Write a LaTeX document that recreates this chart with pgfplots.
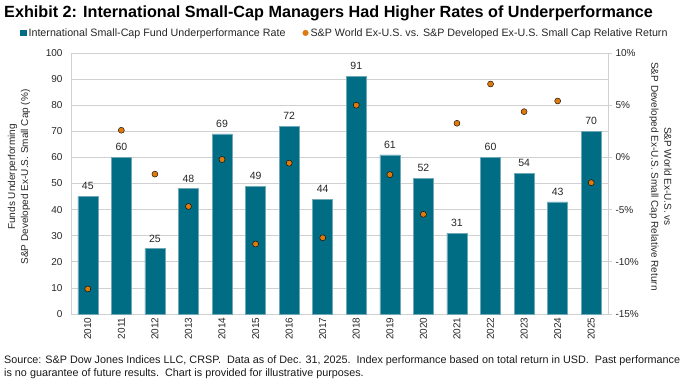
\documentclass[border=0pt]{standalone}
\usepackage{pgfplots}
\pgfplotsset{compat=1.18}
\usepackage{fontspec}
\setmainfont{Liberation Sans}
\definecolor{barc}{HTML}{006D85}
\definecolor{baredge}{HTML}{6FA9B8}
\definecolor{dotc}{HTML}{DD7A0E}
\definecolor{gridc}{HTML}{D0D0D0}
\begin{document}
\begin{tikzpicture}
\path[use as bounding box] (0pt,0pt) rectangle (687pt,388pt);
\node[anchor=west, font=\bfseries\fontsize{16.2}{19}\selectfont, inner sep=0pt] at (4pt,375pt) {Exhibit 2: International Small-Cap Managers Had Higher Rates of Underperformance};
\begin{axis}[at={(71pt,74pt)}, anchor=south west, scale only axis, width=537pt, height=261pt,
  xmin=-0.5, xmax=15.5, ymin=0, ymax=100,
  ytick={0,10,...,100},
  xtick={0,...,15},
  xticklabels={2010,2011,2012,2013,2014,2015,2016,2017,2018,2019,2020,2021,2022,2023,2024,2025},
  /pgf/number format/assume math mode=true,
  ticklabel style={font=\fontsize{10}{12}\selectfont, text=black!85},
  y tick label style={xshift=-5pt},
  x tick label style={rotate=90, anchor=east, xshift=0pt},
  major tick length=0pt,
  axis line style={gridc, line width=0.8pt},
  ymajorgrids, grid style={gridc, line width=0.8pt},
  ylabel={Funds Underperforming\\S\&P Developed Ex-U.S. Small Cap (\%)},
  ylabel style={at={(axis description cs:-0.0968,0.525)}, anchor=center, rotate=0, align=center, font=\fontsize{10}{13}\selectfont, text=black!85},
  legend style={at={(axis description cs:-0.1,1.077)}, anchor=west, draw=none, fill=none,
    legend columns=2, font=\fontsize{10.7}{12}\selectfont, text=black!85,
    /tikz/every even column/.append style={column sep=15pt}},
  nodes near coords, nodes near coords style={font=\fontsize{10.5}{12}\selectfont, text=black!85, yshift=3pt},
]
\addplot[ybar, bar width=20pt, fill=barc, draw=baredge, line width=0.5pt,
  legend image code/.code={\fill[barc] (0pt,-2.8pt) rectangle (5.6pt,2.8pt);}]
  coordinates {(0,45) (1,60) (2,25) (3,48) (4,69) (5,49) (6,72) (7,44) (8,91) (9,61) (10,52) (11,31) (12,60) (13,54) (14,43) (15,70)};
\addlegendentry{International Small-Cap Fund Underperformance Rate}
\addlegendimage{legend image code/.code={\fill[dotc] (2.8pt,0pt) circle (2.8pt);}}
\addlegendentry{S\&P World Ex-U.S. vs. S\&P Developed Ex-U.S. Small Cap Relative Return}
\end{axis}
\begin{axis}[at={(71pt,74pt)}, anchor=south west, scale only axis, width=537pt, height=261pt,
  xmin=-0.5, xmax=15.5, ymin=-15, ymax=10,
  ytick={-15,-10,...,10},
  yticklabel={\pgfmathprintnumber{\tick}\%},
  /pgf/number format/assume math mode=true,
  axis y line*=right, hide x axis,
  ticklabel style={font=\fontsize{10}{12}\selectfont, text=black!85},
  tick align=outside, major tick length=4pt,
  ytick style={gridc, line width=0.8pt},
  axis line style={gridc, line width=0.8pt},
  ylabel={S\&P World Ex-U.S. vs\\S\&P Developed Ex-U.S. Small Cap Relative Return},
  ylabel style={at={(axis description cs:1.0978,0.527)}, anchor=center, rotate=180, align=center, font=\fontsize{10}{13}\selectfont, text=black!85},
]
\addplot[only marks, mark=*, mark size=3pt, mark options={fill=dotc, draw=none}]
  coordinates {(0,-12.6) (1,2.6) (2,-1.6) (3,-4.7) (4,-0.2) (5,-8.3) (6,-0.55) (7,-7.7) (8,5.0) (9,-1.65) (10,-5.45) (11,3.27) (12,7.03) (13,4.38) (14,5.4) (15,-2.42)};
\end{axis}
\node[anchor=north west, font=\fontsize{10.8}{13}\selectfont, align=left, inner sep=0pt, text=black!90] at (4pt,33pt) {Source: S\&P Dow Jones Indices LLC, CRSP.\ \ Data as of Dec. 31, 2025.\ \ Index performance based on total return in USD.\ \ Past performance\\is no guarantee of future results.\ \ Chart is provided for illustrative purposes.};
\end{tikzpicture}
\end{document}
